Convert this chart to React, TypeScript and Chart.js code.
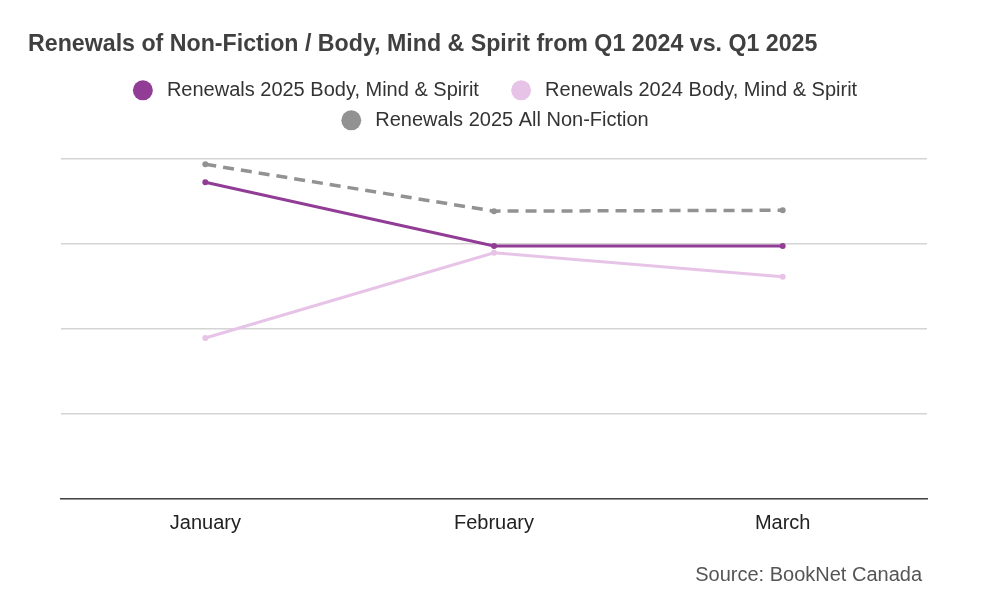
import { useEffect, useRef } from "react";
import { Chart, registerables } from "chart.js";

Chart.register(...registerables);

const months = ["January", "February", "March"];
const bodyMindSpirit2025 = [3.72, 2.97, 2.97];
const bodyMindSpirit2024 = [1.89, 2.89, 2.61];
const allNonFiction2025 = [3.93, 3.38, 3.39];
const seriesLabels = [
  "Renewals 2025 Body, Mind & Spirit",
  "Renewals 2024 Body, Mind & Spirit",
  "Renewals 2025 All Non-Fiction",
];
const titleText = "Renewals of Non-Fiction / Body, Mind & Spirit from Q1 2024 vs. Q1 2025";
const sourceText = "Source: BookNet Canada";
const yMin = 0;
const yMax = 4;
const yStep = 1;

const FONT = "'Liberation Sans', Arial, sans-serif";
const legendLead = "\u2009";
const legendGap = "    ";

const sourcePlugin = {
  id: "sourceNote",
  afterDraw(chart: any) {
    const ctx = chart.ctx;
    ctx.save();
    ctx.font = `20px ${FONT}`;
    ctx.fillStyle = "#555555";
    ctx.textAlign = "right";
    ctx.textBaseline = "middle";
    ctx.fillText(sourceText, chart.chartArea.right - 5, chart.height - 37);
    ctx.restore();
  },
};

export default function App() {
  const ref = useRef<HTMLCanvasElement | null>(null);

  useEffect(() => {
    document.body.style.margin = "0";
    if (!ref.current) return;
    const chart = new Chart(ref.current, {
      type: "line",
      data: {
        labels: months,
        datasets: [
          {
            label: seriesLabels[0],
            data: bodyMindSpirit2025,
            borderColor: "#913d95",
            backgroundColor: "#913d95",
            borderWidth: 3,
            pointRadius: 3,
            pointBorderWidth: 0,
            pointBackgroundColor: "#913d95",
            tension: 0,
          },
          {
            label: seriesLabels[1],
            data: bodyMindSpirit2024,
            borderColor: "#e7c4e7",
            backgroundColor: "#e7c4e7",
            borderWidth: 3,
            pointRadius: 3,
            pointBorderWidth: 0,
            pointBackgroundColor: "#e7c4e7",
            tension: 0,
          },
          {
            label: seriesLabels[2],
            data: allNonFiction2025,
            borderColor: "#929292",
            backgroundColor: "#929292",
            borderWidth: 3.5,
            borderDash: [11, 7],
            pointRadius: 3,
            pointBorderWidth: 0,
            pointBackgroundColor: "#929292",
            tension: 0,
          },
        ],
      },
      options: {
        responsive: false,
        animation: false,
        devicePixelRatio: 1,
        layout: { padding: { left: 28, right: 28, top: 0, bottom: 0 } },
        font: { family: FONT },
        plugins: {
          title: {
            display: true,
            text: titleText,
            align: "start",
            color: "#404040",
            font: { family: FONT, size: 23.2, weight: "bold" },
            padding: { top: 31, bottom: 11.5 },
          },
          legend: {
            display: true,
            position: "top",
            align: "center",
            labels: {
              usePointStyle: true,
              pointStyle: "circle",
              boxWidth: 20,
              boxHeight: 14.1,
              padding: 10,
              color: "#333333",
              font: { family: FONT, size: 20 },
              generateLabels: (c: any) => {
                const items = (Chart.defaults.plugins.legend.labels as any).generateLabels(c);
                return items.map((it: any, i: number) => ({
                  ...it,
                  text: legendLead + it.text + (i === 0 ? legendGap : ""),
                  lineWidth: 0,
                  lineDash: [],
                  strokeStyle: "rgba(0,0,0,0)",
                  pointStyle: "circle",
                }));
              },
            },
          },
          tooltip: { enabled: false },
        },
        scales: {
          x: {
            offset: true,
            grid: { display: false },
            border: { display: true, color: "#444444", width: 1.5 },
            ticks: {
              color: "#222222",
              font: { family: FONT, size: 20 },
              padding: 4,
            },
            afterFit: (axis: any) => {
              axis.height = 113;
            },
          },
          xTop: {
            type: "category",
            position: "top",
            display: true,
            grid: { display: false },
            ticks: { display: false },
            border: { display: false },
            afterFit: (axis: any) => {
              axis.height = 18;
            },
          },
          y: {
            min: yMin,
            max: yMax,
            ticks: { display: false, stepSize: yStep },
            grid: { color: "#d4d4d4", lineWidth: 1.5, drawTicks: false },
            border: { display: false },
            afterFit: (axis: any) => {
              axis.width = 33;
            },
          },
          yRight: {
            position: "right",
            display: true,
            min: yMin,
            max: yMax,
            ticks: { display: false },
            grid: { display: false },
            border: { display: false },
            afterFit: (axis: any) => {
              axis.width = 35;
            },
          },
        },
      },
      plugins: [sourcePlugin],
    } as any);
    return () => chart.destroy();
  }, []);

  return (
    <div style={{ position: "fixed", left: 0, top: 0, width: 990, height: 612, background: "#ffffff" }}>
      <canvas ref={ref} width={990} height={612} style={{ width: 990, height: 612, display: "block" }} />
    </div>
  );
}
